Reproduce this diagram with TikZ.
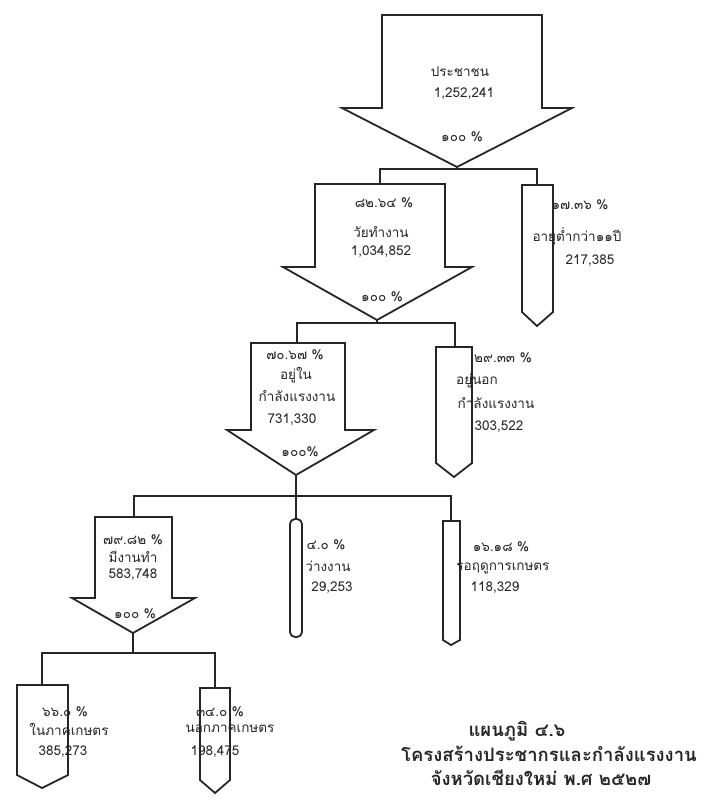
\documentclass[tikz,border=0pt]{standalone}
\usepackage{fontspec}
\setmainfont{Loma}[Script=Thai]
\newcommand\fatarrow[8]{\draw[outl] (#1,#3) -- (#2,#3) -- (#2,#4) -- (#6,#4) -- (#7,#8) -- (#5,#4) -- (#1,#4) -- cycle;}
\newcommand\pentabox[6]{\draw[outl] (#1,#3) -- (#2,#3) -- (#2,#4) -- (#5,#6) -- (#1,#4) -- cycle;}
\begin{document}
\begin{tikzpicture}[x=1pt,y=-1pt,
  outl/.style={draw=black!85, fill=white, line width=1.8pt, line join=miter},
  conn/.style={draw=black!85, line width=1.4pt},
  lbl/.style={inner sep=0pt, font=\fontsize{13.5}{15}\selectfont, text=black!85},
  ttl/.style={inner sep=0pt, font=\fontsize{18.5}{21}\selectfont\bfseries, text=black!85}]
\useasboundingbox (0,0) rectangle (728,807);

% ---- shapes ----
\fatarrow{382}{542}{15}{108}{342}{572}{457}{167}
\fatarrow{315}{445}{184}{267}{283}{472}{377}{320}
\fatarrow{251}{345}{343}{430}{227}{374}{296}{475}
\fatarrow{95}{172}{517}{598}{72}{195}{133}{633}
\pentabox{522}{553}{185}{312}{537}{326}
\pentabox{436}{472}{347}{463}{454}{477}
\draw[outl, rounded corners=5pt] (290,519) -- (302,519) -- (302,637) -- (290,637) -- cycle;
\pentabox{443}{460}{521}{640}{451}{645}
\pentabox{17}{68}{685}{775}{42}{788}
\pentabox{200}{230}{688}{780}{215}{793}

% ---- anchor coordinates ----
\coordinate (A1tip) at (457,167);
\coordinate (A2top) at (380,184);
\coordinate (A2tip) at (377,320);
\coordinate (A3top) at (297,343);
\coordinate (A3tip) at (296,475);
\coordinate (A4top) at (134,517);
\coordinate (A4tip) at (133,633);
\coordinate (N1top) at (537,185);
\coordinate (N2top) at (455,347);
\coordinate (N3top) at (296,519);
\coordinate (N4top) at (451,521);
\coordinate (N5top) at (42,685);
\coordinate (N6top) at (215,688);
\coordinate (B1) at (457,169);
\coordinate (B2) at (377,323);
\coordinate (B3) at (296,496);
\coordinate (B4) at (133,653);

% ---- connectors ----
\draw[conn] (A1tip) -- (B1);
\draw[conn] (A2top) |- (B1) -| (N1top);
\draw[conn] (A2tip) -- (B2);
\draw[conn] (A3top) |- (B2) -| (N2top);
\draw[conn] (A3tip) -- (B3);
\draw[conn] (A4top) |- (B3) -| (N4top);
\draw[conn] (B3) -- (N3top);
\draw[conn] (A4tip) -- (B4);
\draw[conn] (N5top) |- (B4) -| (N6top);

% ---- labels ----
\node[lbl] (t1a) at (460,72) {ประชาชน};
\node[lbl] (t1b) at (464,94) {1,252,241};
\node[lbl] (t1c) at (462,137) {๑๐๐ \%};

\node[lbl] (t2a) at (384,203) {๘๒.๖๔ \%};
\node[lbl] (t2b) at (381,232) {วัยทำงาน};
\node[lbl] (t2c) at (381,252) {1,034,852};
\node[lbl] (t2d) at (382,297) {๑๐๐ \%};

\node[lbl] (t3a) at (580,205) {๑๗.๓๖ \%};
\node[lbl] (t3b) at (577,236) {อายุต่ำกว่า๑๑ปี};
\node[lbl] (t3c) at (590,261) {217,385};

\node[lbl] (t4a) at (295,355) {๗๐.๖๗ \%};
\node[lbl] (t4b) at (296,375) {อยู่ใน};
\node[lbl] (t4c) at (297,396) {กำลังแรงงาน};
\node[lbl] (t4d) at (292,420) {731,330};
\node[lbl] (t4e) at (300,452) {๑๐๐\%};

\node[lbl] (t5a) at (503,358) {๒๙.๓๓ \%};
\node[lbl] (t5b) at (477,381) {อยู่นอก};
\node[lbl] (t5c) at (496,403) {กำลังแรงงาน};
\node[lbl] (t5d) at (499,427) {303,522};

\node[lbl] (t6a) at (133,540) {๗๙.๘๒ \%};
\node[lbl] (t6b) at (133,557) {มีงานทำ};
\node[lbl] (t6c) at (133,575) {583,748};
\node[lbl] (t6d) at (135,614) {๑๐๐ \%};

\node[lbl] (t7a) at (326,545) {๔.๐ \%};
\node[lbl] (t7b) at (328,566) {ว่างงาน};
\node[lbl] (t7c) at (332,588) {29,253};

\node[lbl] (t8a) at (501,547) {๑๖.๑๘ \%};
\node[lbl] (t8b) at (503,568) {รอฤดูการเกษตร};
\node[lbl] (t8c) at (495,588) {118,329};

\node[lbl] (t9a) at (65,712) {๖๖.๐ \%};
\node[lbl] (t9b) at (69,729) {ในภาคเกษตร};
\node[lbl] (t9c) at (63,752) {385,273};

\node[lbl] (t10a) at (220,712) {๓๔.๐ \%};
\node[lbl] (t10b) at (230,729) {นอกภาคเกษตร};
\node[lbl] (t10c) at (215,752) {198,475};

% ---- title ----
\node[ttl] (ti1) at (517,731) {แผนภูมิ ๔.๖};
\node[ttl] (ti2) at (549,754) {โครงสร้างประชากรและกำลังแรงงาน};
\node[ttl] (ti3) at (541,778) {จังหวัดเชียงใหม่ พ.ศ ๒๕๒๗};
\end{tikzpicture}
\end{document}
